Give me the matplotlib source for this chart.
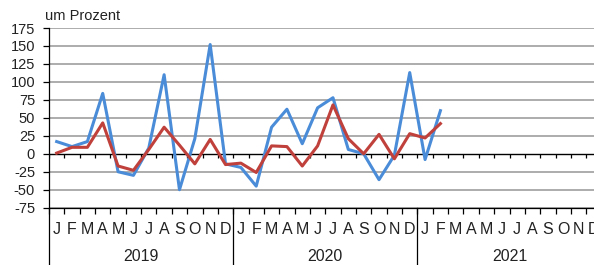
import numpy as np
import matplotlib.pyplot as plt
import matplotlib.transforms as mtransforms

plt.rcParams['font.family'] = ['Liberation Sans', 'DejaVu Sans']

# Veränderung gegenüber Vormonat, um Prozent
months = ['J', 'F', 'M', 'A', 'M', 'J', 'J', 'A', 'S', 'O', 'N', 'D'] * 3
years = ['2019', '2020', '2021']
blue_values = [17, 10, 17, 84, -25, -30, 8, 110, -50, 21, 152, -14,
               -19, -45, 37, 62, 14, 64, 78, 6, 0, -36, -2, 113,
               -8, 60]
red_values = [1, 9, 9, 43, -17, -23, 6, 37, 12, -14, 20, -15,
              -13, -26, 11, 10, -17, 11, 68, 21, 0, 27, -7, 28,
              22, 42]
yticks = [-75, -50, -25, 0, 25, 50, 75, 100, 125, 150, 175]

blue = '#4A8CD8'
red = '#C0403C'

fig = plt.figure(figsize=(5.94, 2.65), dpi=100)
ax = fig.add_axes([49 / 594, 57.3 / 265, 552.6 / 594, 179.7 / 265])

n = len(months)
x = np.arange(n)

# gitterlinien
for v in yticks:
    if v != 0:
        ax.axhline(v, color='#A6A6A6', lw=1.3, zorder=1)
ax.axhline(0, color='black', lw=1.0, zorder=2)
# kleine striche an der nulllinie
ax.vlines(np.arange(-0.5, n), 0, -5.5, color='black', lw=0.9, zorder=2)

ax.plot(x[:len(blue_values)], blue_values, color=blue, lw=2.2, zorder=3)
ax.plot(x[:len(red_values)], red_values, color=red, lw=2.2, zorder=4)

ax.set_xlim(-0.5, n - 0.5)
ax.set_ylim(-75, 175)

for s in ['top', 'right']:
    ax.spines[s].set_visible(False)
ax.spines['bottom'].set_linewidth(0.9)
ax.spines['left'].set_linewidth(0.9)

ax.set_yticks(yticks)
ax.set_yticklabels([str(v) for v in yticks], fontsize=10.5, color='#222222')
ax.tick_params(axis='y', direction='out', length=4, width=0.9, pad=6)

ax.set_xticks(x)
ax.set_xticklabels(months, fontsize=11.5, color='#222222')
ax.tick_params(axis='x', which='major', length=0, pad=10)
ax.set_xticks(np.arange(-0.5, n), minor=True)
ax.tick_params(axis='x', which='minor', direction='out', length=4, width=0.9)

# jahrestrenner und jahreszahlen
trans = mtransforms.blended_transform_factory(ax.transData, ax.transAxes)
for i, yr in enumerate(years):
    left = i * 12 - 0.5
    ax.plot([left, left], [0, -0.34], color='black', lw=0.9,
            transform=trans, clip_on=False)
    ax.text(left + 6, -0.27, yr, transform=trans, ha='center', va='center',
            fontsize=11.5, color='#222222')

fig.text(45 / 594, 1 - 16 / 265, 'um Prozent', ha='left', va='center',
         fontsize=10.5, color='#222222')

fig.savefig('out.png', dpi=100)
